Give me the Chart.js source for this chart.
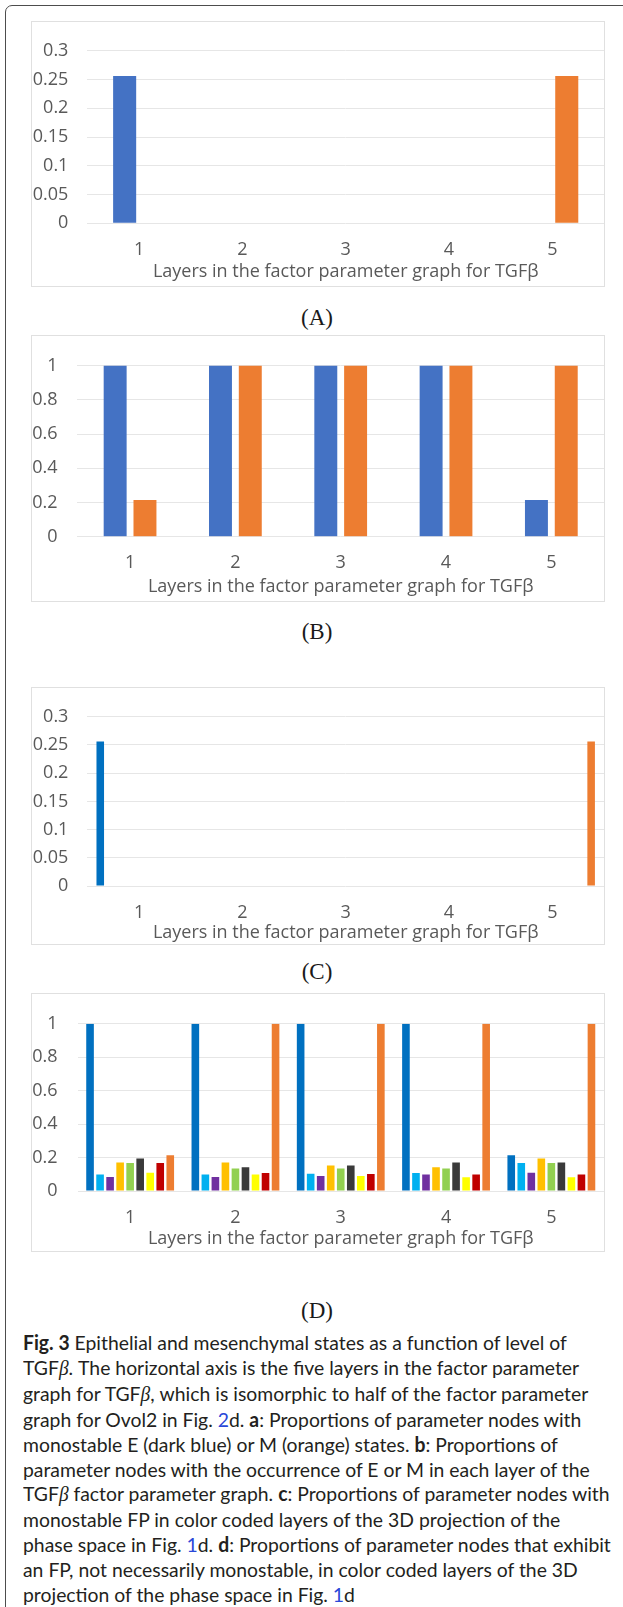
<!DOCTYPE html>
<html>
<head>
<meta charset="utf-8">
<script src="https://cdn.jsdelivr.net/npm/chart.js@4.4.1/dist/chart.umd.min.js"></script>
<style>
html, body { margin: 0; padding: 0; background: #fff; width: 623px; height: 1607px; overflow: hidden; }
#frame { position: absolute; left: 5px; top: 5px; width: 700px; height: 1700px; border: 1.5px solid #4d4d4d; border-radius: 7px; }
.panel { position: absolute; left: 31px; width: 574px; border: 1px solid #e0e0e0; box-sizing: border-box; }
.panel canvas { position: absolute; left: -1px; top: -1px; }
.sub { position: absolute; left: 217px; width: 200px; text-align: center; font-family: "Liberation Serif", serif; font-size: 23px; line-height: 24px; color: #1a1a1a; }
#caption { position: absolute; left: 22.6px; top: 1330px; font-family: Lato, "Open Sans", sans-serif; font-size: 20px; line-height: 24.9px; color: #231f20; transform-origin: 0 0; white-space: nowrap; }
#caption div { width: max-content; }
#caption i { font-family: "Liberation Serif", serif; }
#caption .lk { color: #2a48d8; }
</style>
</head>
<body>
<div id="frame"></div>

<div class="panel" style="top:21px;height:266px"><canvas id="chartA"></canvas></div>
<div class="sub" style="top:306px">(A)</div>

<div class="panel" style="top:335px;height:267px"><canvas id="chartB"></canvas></div>
<div class="sub" style="top:620px">(B)</div>

<div class="panel" style="top:687px;height:258px"><canvas id="chartC"></canvas></div>
<div class="sub" style="top:960px">(C)</div>

<div class="panel" style="top:993px;height:259px"><canvas id="chartD"></canvas></div>
<div class="sub" style="top:1299px">(D)</div>

<div id="caption">
<div><b>Fig. 3</b> Epithelial and mesenchymal states as a function of level of</div>
<div>TGF<i>β</i>. The horizontal axis is the five layers in the factor parameter</div>
<div>graph for TGF<i>β</i>, which is isomorphic to half of the factor parameter</div>
<div>graph for Ovol2 in Fig. <span class="lk">2</span>d. <b>a</b>: Proportions of parameter nodes with</div>
<div>monostable E (dark blue) or M (orange) states. <b>b</b>: Proportions of</div>
<div>parameter nodes with the occurrence of E or M in each layer of the</div>
<div>TGF<i>β</i> factor parameter graph. <b>c</b>: Proportions of parameter nodes with</div>
<div>monostable FP in color coded layers of the 3D projection of the</div>
<div>phase space in Fig. <span class="lk">1</span>d. <b>d</b>: Proportions of parameter nodes that exhibit</div>
<div>an FP, not necessarily monostable, in color coded layers of the 3D</div>
<div>projection of the phase space in Fig. <span class="lk">1</span>d</div>
</div>

<script>
// categories (layers) and axis text
const categories = ['1', '2', '3', '4', '5'];
const axisTitle = 'Layers in the factor parameter graph for TGFβ';

// tick values
const yTicksSmall = [0, 0.05, 0.1, 0.15, 0.2, 0.25, 0.3];
const yTicksUnit = [0, 0.2, 0.4, 0.6, 0.8, 1];

// (A) monostable E / M
const aE = [0.256, 0, 0, 0, 0];
const aM = [0, 0, 0, 0, 0.256];

// (B) occurrence of E / M
const bE = [1, 1, 1, 1, 0.215];
const bM = [0.215, 1, 1, 1, 1];

// (C) monostable FP, color coded layers
const cDarkBlue = [0.256, 0, 0, 0, 0];
const cLightBlue = [0, 0, 0, 0, 0];
const cPurple = [0, 0, 0, 0, 0];
const cGold = [0, 0, 0, 0, 0];
const cGreen = [0, 0, 0, 0, 0];
const cBlack = [0, 0, 0, 0, 0];
const cYellow = [0, 0, 0, 0, 0];
const cRed = [0, 0, 0, 0, 0];
const cOrange = [0, 0, 0, 0, 0.256];

// (D) FP, not necessarily monostable
const dDarkBlue = [1, 1, 1, 1, 0.213];
const dLightBlue = [0.099, 0.099, 0.103, 0.107, 0.168];
const dPurple = [0.084, 0.084, 0.089, 0.098, 0.109];
const dGold = [0.171, 0.171, 0.152, 0.142, 0.195];
const dGreen = [0.167, 0.134, 0.134, 0.134, 0.167];
const dBlack = [0.195, 0.142, 0.153, 0.170, 0.170];
const dYellow = [0.109, 0.098, 0.089, 0.082, 0.082];
const dRed = [0.168, 0.107, 0.102, 0.098, 0.098];
const dOrange = [0.213, 1, 1, 1, 1];

const textColor = '#595959';
const gridColor = '#e6e6e6';
const tickFont = { family: 'Open Sans', size: 18 };
const layerColors = ['#0070C0', '#00B0F0', '#7030A0', '#FFC000', '#92D050', '#3a3a3a', '#FFFF00', '#C00000', '#ED7D31'];

function series(list, colors) {
    return list.map((d, i) => ({ data: d, backgroundColor: colors[i], borderWidth: 0 }));
}

function makeChart(id, datasets, yTicks, g) {
    const canvas = document.getElementById(id);
    canvas.width = 574;
    canvas.height = g.h;
    canvas.style.width = '574px';
    canvas.style.height = g.h + 'px';
    return new Chart(canvas.getContext('2d'), {
        type: 'bar',
        data: { labels: categories, datasets: datasets },
        options: {
            responsive: false,
            animation: false,
            devicePixelRatio: 1,
            layout: { padding: { top: g.top, right: 1, bottom: 0, left: 0 } },
            plugins: { legend: { display: false }, tooltip: { enabled: false } },
            datasets: { bar: { categoryPercentage: g.cat, barPercentage: g.bar } },
            scales: {
                x: {
                    grid: { display: false, drawTicks: false, tickLength: 0 },
                    border: { display: false },
                    ticks: { color: textColor, font: tickFont, padding: g.xPad, maxRotation: 0 },
                    title: { display: true, text: axisTitle, color: textColor, font: tickFont, padding: { top: 0, bottom: g.titlePad } },
                    afterFit: s => { s.height = g.xH; }
                },
                y: {
                    min: 0,
                    max: yTicks[yTicks.length - 1],
                    grid: { color: gridColor, drawTicks: false, tickLength: 0 },
                    border: { display: false },
                    afterBuildTicks: s => { s.ticks = yTicks.map(v => ({ value: v })); },
                    ticks: { color: textColor, font: tickFont, padding: g.yPad, callback: v => String(+v.toFixed(2)) },
                    afterFit: s => { s.width = g.yW; }
                }
            }
        }
    });
}

makeChart('chartA', series([aE, aM], ['#4472C4', '#ED7D31']), yTicksSmall,
    { h: 266, top: 13, yW: 56.4, yPad: 19, xH: 63.7, xPad: 15.9, titlePad: 4.2, cat: 0.558, bar: 0.8 });
makeChart('chartB', series([bE, bM], ['#4472C4', '#ED7D31']), yTicksUnit,
    { h: 267, top: 12.3, yW: 46.4, yPad: 19.8, xH: 65.3, xPad: 15.8, titlePad: 4.5, cat: 0.566, bar: 0.77 });
makeChart('chartC', series([cDarkBlue, cLightBlue, cPurple, cGold, cGreen, cBlack, cYellow, cRed, cOrange], layerColors), yTicksSmall,
    { h: 258, top: 12.3, yW: 56.4, yPad: 19, xH: 59, xPad: 15.9, titlePad: 1.5, cat: 0.845, bar: 0.78 });
makeChart('chartD', series([dDarkBlue, dLightBlue, dPurple, dGold, dGreen, dBlack, dYellow, dRed, dOrange], layerColors), yTicksUnit,
    { h: 259, top: 12, yW: 46.5, yPad: 19.9, xH: 61, xPad: 16.5, titlePad: 1.9, cat: 0.857, bar: 0.76 });

// squeeze the caption to the condensed face of the original
const targetWidths = [549.5, 549.5, 567.4, 556.3, 535.6, 565.4, 588, 537.6, 588, 554.3];
const lines = document.querySelectorAll('#caption div');
let natural = 0, target = 0;
targetWidths.forEach((w, i) => { natural += lines[i].getBoundingClientRect().width; target += w; });
document.getElementById('caption').style.transform = 'scaleX(' + (target / natural).toFixed(4) + ')';
</script>
</body>
</html>
